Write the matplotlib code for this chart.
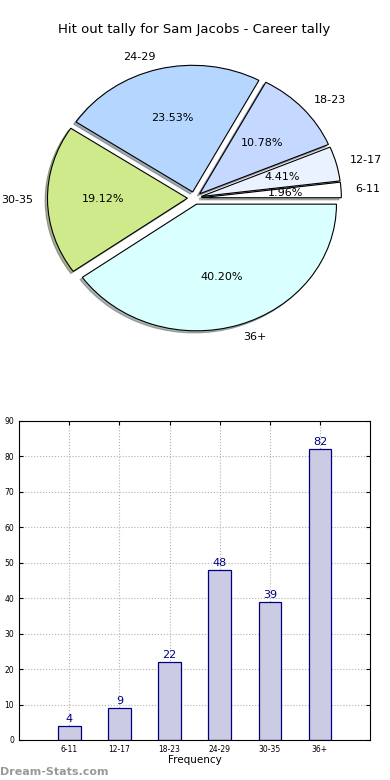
import matplotlib
matplotlib.use('Agg')
import matplotlib.pyplot as plt

categories = ['6-11', '12-17', '18-23', '24-29', '30-35', '36+']
counts = [4, 9, 22, 48, 39, 82]
pie_colors = ['#ffffff', '#eaf1ff', '#c5d8ff', '#b4d6ff', '#cfea8a', '#d9ffff']

fig = plt.figure(figsize=(3.9, 7.8), dpi=100)

# pie on top
ax1 = fig.add_axes([0.050, 0.543, 0.897, 0.406])
wedges, texts, autotexts = ax1.pie(counts, labels=categories, colors=pie_colors,
                                   explode=[0.05] * len(counts),
                                   shadow={'ox': -0.012, 'oy': -0.012, 'shade': 0.6},
                                   autopct='%1.2f%%', startangle=0,
                                   wedgeprops={'edgecolor': 'black', 'linewidth': 0.8},
                                   textprops={'fontsize': 8})
ax1.set_aspect('auto')
ax1.set_xlim(-1.25, 1.25)
ax1.set_ylim(-1.25, 1.25)
ax1.set_title('Hit out tally for Sam Jacobs - Career tally', fontsize=9.5, pad=5)

# bar chart below
ax2 = fig.add_axes([0.049, 0.0513, 0.9, 0.409])
x = list(range(len(categories)))
bars = ax2.bar(x, counts, width=0.45, color='#cbcbe4', edgecolor='navy', linewidth=0.9)
for xi, c in zip(x, counts):
    ax2.text(xi, c + 0.6, str(c), ha='center', va='bottom', color='navy', fontsize=8)
ax2.set_xlim(-1, 6)
ax2.set_ylim(0, 90)
ax2.set_xticks(x)
ax2.set_xticklabels(categories)
ax2.set_yticks(range(0, 91, 10))
ax2.tick_params(labelsize=5.5, direction='in', top=True, right=True, length=3)
ax2.grid(True, linestyle=':', color='#b0b0b0', linewidth=0.8)
ax2.set_axisbelow(True)
ax2.set_xlabel('Frequency', fontsize=7.5, labelpad=1)

fig.text(0.0, 0.004, 'Dream-Stats.com', fontsize=8, color='#999999', fontweight='bold', ha='left', va='bottom')

fig.savefig('out.png', dpi=100)
